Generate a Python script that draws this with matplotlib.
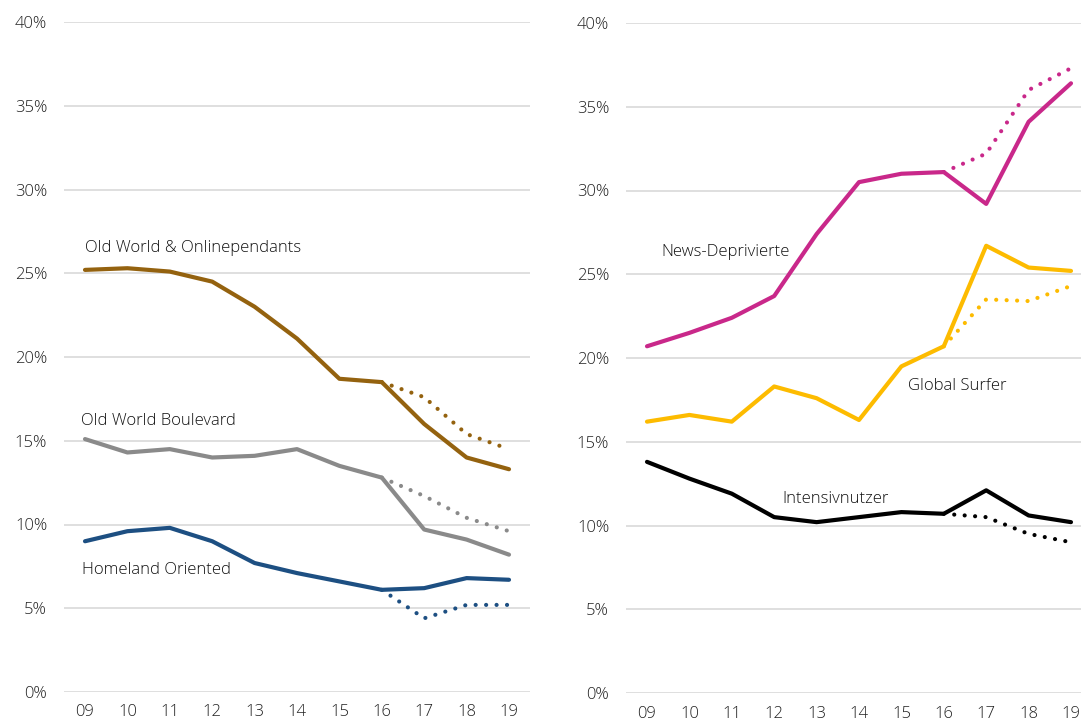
import matplotlib.pyplot as plt

plt.rcParams['font.family'] = ['Open Sans', 'DejaVu Sans']
plt.rcParams['font.weight'] = 'light'

years = ['09', '10', '11', '12', '13', '14', '15', '16', '17', '18', '19']
dot_years = ['16', '17', '18', '19']

# left panel
old_world_online = [25.2, 25.3, 25.1, 24.5, 23.0, 21.1, 18.7, 18.5, 16.0, 14.0, 13.3]
old_world_online_dot = [18.5, 17.6, 15.4, 14.5]
old_world_boulevard = [15.1, 14.3, 14.5, 14.0, 14.1, 14.5, 13.5, 12.8, 9.7, 9.1, 8.2]
old_world_boulevard_dot = [12.8, 11.7, 10.4, 9.6]
homeland = [9.0, 9.6, 9.8, 9.0, 7.7, 7.1, 6.6, 6.1, 6.2, 6.8, 6.7]
homeland_dot = [6.1, 4.4, 5.2, 5.2]

# right panel
news_depriv = [20.7, 21.5, 22.4, 23.7, 27.4, 30.5, 31.0, 31.1, 29.2, 34.1, 36.4]
news_depriv_dot = [31.1, 32.2, 36.0, 37.3]
global_surfer = [16.2, 16.6, 16.2, 18.3, 17.6, 16.3, 19.5, 20.7, 26.7, 25.4, 25.2]
global_surfer_dot = [20.7, 23.5, 23.4, 24.3]
intensiv = [13.8, 12.8, 11.9, 10.5, 10.2, 10.5, 10.8, 10.7, 12.1, 10.6, 10.2]
intensiv_dot = [10.7, 10.5, 9.5, 9.0]

yticks = [0, 5, 10, 15, 20, 25, 30, 35, 40]
ylabels = ['0%', '5%', '10%', '15%', '20%', '25%', '30%', '35%', '40%']

BROWN = '#94620f'
GRAY = '#8a8a8a'
NAVY = '#1d4f82'
MAGENTA = '#c9288a'
YELLOW = '#fdbb00'
BLACK = '#000000'

fig = plt.figure(figsize=(10.81, 7.19), dpi=100)
W, H = 1081, 719
ax1 = fig.add_axes([63.8 / W, 27 / H, 466.4 / W, 670 / H])
ax2 = fig.add_axes([625.8 / W, 26 / H, 466.4 / W, 670 / H])

x = list(range(len(years)))
xd = [years.index(y) for y in dot_years]


def draw(ax, solid, dotted, color):
    ax.plot(x, solid, color=color, lw=3, solid_joinstyle='round', solid_capstyle='round', zorder=3)
    ax.plot(xd, dotted, color=color, lw=3, linestyle=(0, (0.01, 2.5)),
            dash_capstyle='round', zorder=3)


draw(ax1, old_world_online, old_world_online_dot, BROWN)
draw(ax1, old_world_boulevard, old_world_boulevard_dot, GRAY)
draw(ax1, homeland, homeland_dot, NAVY)

draw(ax2, news_depriv, news_depriv_dot, MAGENTA)
draw(ax2, global_surfer, global_surfer_dot, YELLOW)
draw(ax2, intensiv, intensiv_dot, BLACK)

for ax in (ax1, ax2):
    ax.set_xlim(-0.5, 10.5)
    ax.set_ylim(0, 40)
    ax.set_yticks(yticks)
    ax.set_yticklabels(ylabels)
    ax.set_xticks(x)
    ax.set_xticklabels(years)
    ax.grid(axis='y', color='#dcdcdc', lw=1.3, zorder=0)
    ax.set_axisbelow(True)
    for s in ax.spines.values():
        s.set_visible(False)
    ax.tick_params(axis='y', length=0, pad=12, labelsize=12, labelcolor='#222222')
    ax.tick_params(axis='x', length=0, pad=9, labelsize=12, labelcolor='#222222')
    ax.patch.set_alpha(0)

txt = dict(fontsize=12, color='#111111', va='center', ha='left')
ax1.text(0.0, 26.5, 'Old World & Onlinependants', **txt)
ax1.text(-0.1, 16.2, 'Old World Boulevard', **txt)
ax1.text(-0.07, 7.3, 'Homeland Oriented', **txt)
ax2.text(0.33, 26.3, 'News-Deprivierte', **txt)
ax2.text(6.15, 18.3, 'Global Surfer', **txt)
ax2.text(3.2, 11.6, 'Intensivnutzer', **txt)

fig.savefig('out.png', dpi=100)
